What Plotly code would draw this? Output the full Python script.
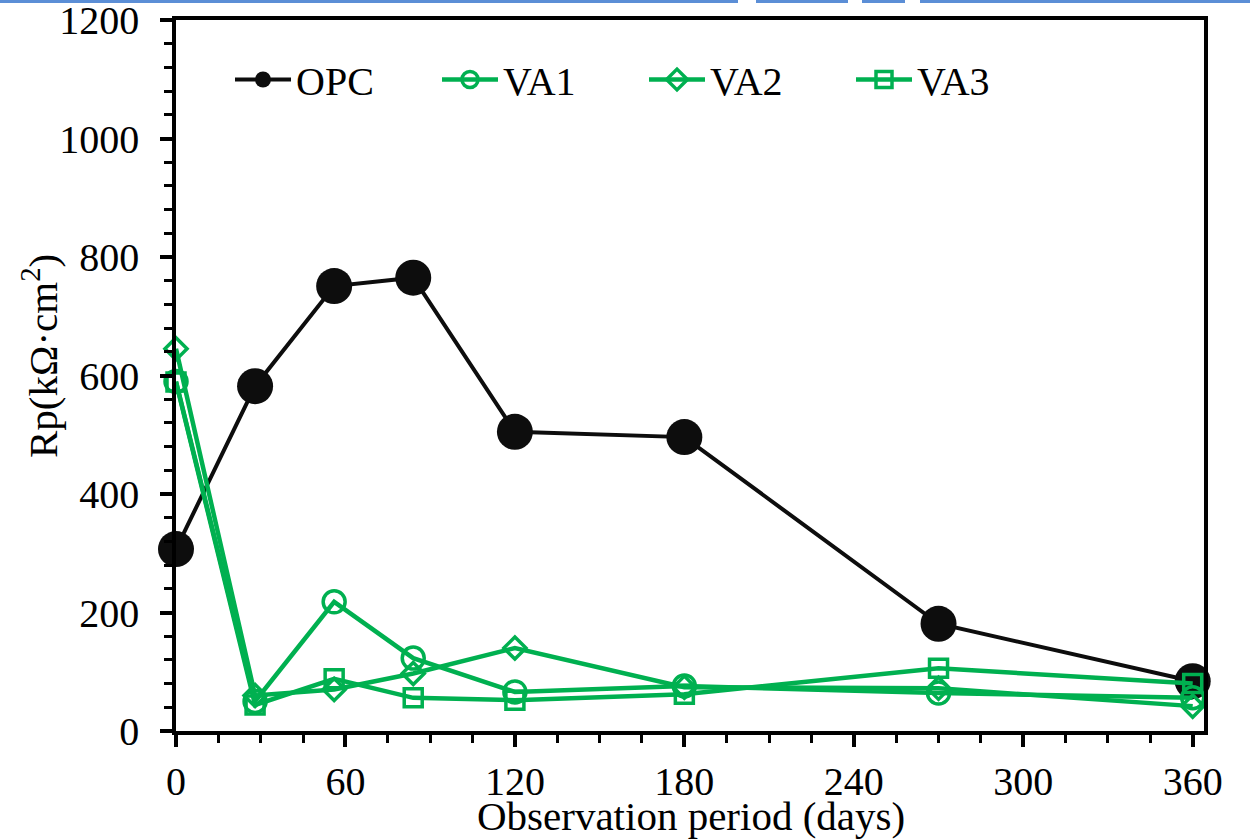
import plotly.graph_objects as go

days = [0, 28, 56, 84, 120, 180, 270, 360]
opc = [307, 582, 751, 765, 505, 496, 181, 84]
va1 = [590, 50, 218, 123, 66, 76, 64, 56]
va2 = [645, 60, 70, 97, 140, 74, 72, 42]
va3 = [589, 44, 88, 56, 52, 62, 106, 80]

x_ticks = [0, 60, 120, 180, 240, 300, 360]
y_ticks = [0, 200, 400, 600, 800, 1000, 1200]

green = "#00B050"
black = "#0D0D0D"
FONT = "Liberation Serif"

fig = go.Figure()
fig.add_trace(go.Scatter(x=days, y=opc, name="OPC", mode="lines+markers",
                         line=dict(color=black, width=4),
                         marker=dict(symbol="circle", size=36, color=black),
                         cliponaxis=False))
fig.add_trace(go.Scatter(x=days, y=va1, name="VA1", mode="lines+markers",
                         line=dict(color=green, width=4.5),
                         marker=dict(symbol="circle-open", size=22, color=green,
                                     line=dict(width=3.5, color=green)),
                         cliponaxis=False))
fig.add_trace(go.Scatter(x=days, y=va2, name="VA2", mode="lines+markers",
                         line=dict(color=green, width=4.5),
                         marker=dict(symbol="diamond-open", size=17, color=green,
                                     line=dict(width=3.5, color=green)),
                         cliponaxis=False))
fig.add_trace(go.Scatter(x=days, y=va3, name="VA3", mode="lines+markers",
                         line=dict(color=green, width=4.5),
                         marker=dict(symbol="square-open", size=18, color=green,
                                     line=dict(width=3.5, color=green)),
                         cliponaxis=False))

L, R, T, B = 176, 46, 20, 108
W, H = 1250, 839
pw, ph = W - L - R, H - T - B

def px_x(p):
    return (p - L) / pw

def px_y(p):
    return 1 - (p - T) / ph

# blue line artefact at the very top of the picture
for a, b in [(0, 738), (756, 848), (862, 905), (920, 1250)]:
    fig.add_shape(type="line", xref="paper", yref="paper",
                  x0=px_x(a), x1=px_x(b), y0=px_y(1.5), y1=px_y(1.5),
                  line=dict(color="#5B8ED6", width=3))

fig.add_annotation(text="Observation period (days)", xref="paper", yref="paper",
                   x=px_x(691), y=px_y(816), xanchor="center", yanchor="middle",
                   showarrow=False, font=dict(family=FONT, size=41, color="black"))
fig.add_annotation(text="Rp(kΩ·cm<sup>2</sup>)", xref="paper", yref="paper",
                   x=px_x(40), y=px_y(356), xanchor="center", yanchor="middle",
                   textangle=-90, showarrow=False,
                   font=dict(family=FONT, size=41, color="black"))

fig.update_layout(
    width=W, height=H,
    margin=dict(l=L, r=R, t=T, b=B, pad=0, autoexpand=False),
    paper_bgcolor="white", plot_bgcolor="white",
    font=dict(family=FONT, size=40, color="black"),
    showlegend=True,
    legend=dict(orientation="h", x=px_x(230), y=px_y(47), xanchor="left", yanchor="top",
                bgcolor="rgba(0,0,0,0)", font=dict(family=FONT, size=40, color="black"),
                entrywidth=136, entrywidthmode="pixels", itemwidth=56,
                tracegroupgap=0),
)
fig.update_xaxes(range=[0, 364], tickvals=x_ticks, ticktext=[str(v) for v in x_ticks],
                 showgrid=False, zeroline=False, automargin=False,
                 showline=True, linecolor="black", linewidth=3.5, mirror=True,
                 ticks="outside", ticklen=12, tickwidth=4, tickcolor="black",
                 ticklabelstandoff=0, ticklabeloverflow="allow",
                 minor=dict(dtick=15, tick0=0, ticks="outside", ticklen=8, tickwidth=3,
                            tickcolor="black", showgrid=False),
                 tickfont=dict(family=FONT, size=40, color="black"))
fig.update_yaxes(range=[0, 1200], tickvals=y_ticks, ticktext=[str(v) for v in y_ticks],
                 showgrid=False, zeroline=False, automargin=False,
                 showline=True, linecolor="black", linewidth=3.5, mirror=True,
                 ticks="outside", ticklen=12, tickwidth=4, tickcolor="black",
                 ticklabelstandoff=13, ticklabeloverflow="allow",
                 minor=dict(dtick=40, tick0=0, ticks="outside", ticklen=8, tickwidth=3,
                            tickcolor="black", showgrid=False),
                 tickfont=dict(family=FONT, size=40, color="black"))

fig.write_html("out.html", config={"displayModeBar": False},
               post_script="document.body.style.margin='0';document.body.style.overflow='hidden';")
